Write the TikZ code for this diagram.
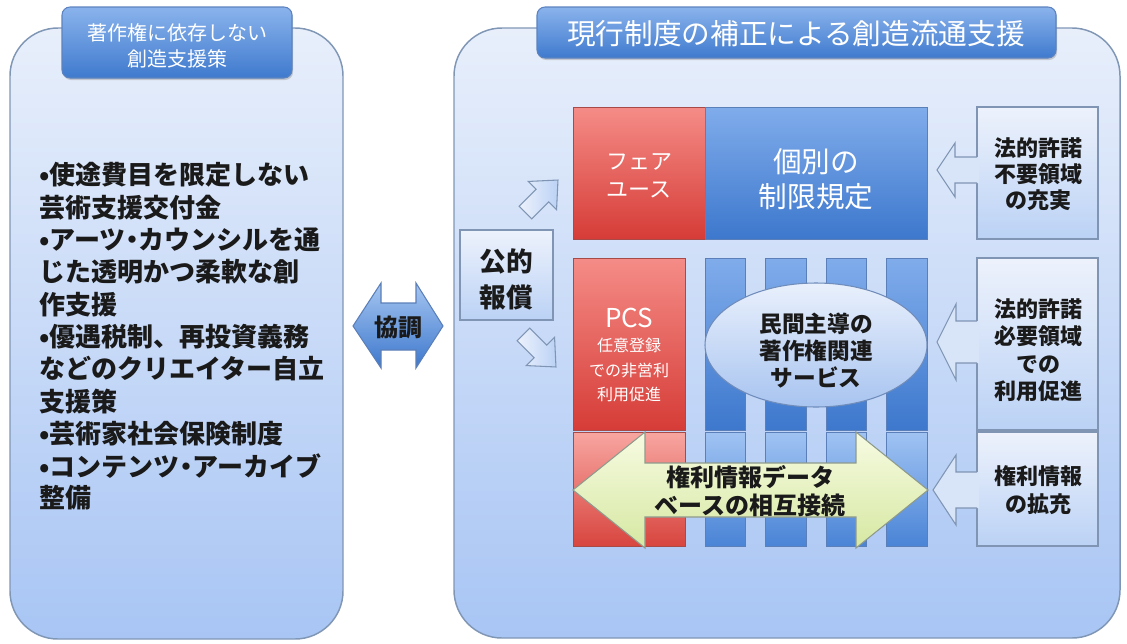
\documentclass[tikz,border=0pt]{standalone}
\usepackage{fontspec}
\setmainfont{Noto Sans CJK JP}
\usetikzlibrary{shapes.geometric,shadows,fit}
\newcommand\jfs[2]{\fontsize{#1}{#2}\selectfont}
\newcommand\ndot{\makebox[0.5em][c]{・}}
\definecolor{panelTop}{HTML}{E8EFFB}
\definecolor{panelBot}{HTML}{A8C5F4}
\definecolor{panelLine}{HTML}{8096B5}
\definecolor{titleTop}{HTML}{8AB3EC}
\definecolor{titleBot}{HTML}{3F7ACE}
\definecolor{titleLine}{HTML}{5C83BF}
\definecolor{redTop}{HTML}{F58C87}
\definecolor{redBot}{HTML}{D63C37}
\definecolor{redLine}{HTML}{A84B48}
\definecolor{redTwoTop}{HTML}{F8A6A1}
\definecolor{redTwoBot}{HTML}{D8453F}
\definecolor{blueTop}{HTML}{80ACEB}
\definecolor{blueBot}{HTML}{3D78CD}
\definecolor{blueLine}{HTML}{5B7FB8}
\definecolor{blueTwoTop}{HTML}{A0C3F3}
\definecolor{blueTwoBot}{HTML}{4A84D6}
\definecolor{lightTop}{HTML}{EDF2FC}
\definecolor{lightBot}{HTML}{BBD2F5}
\definecolor{lightMid}{HTML}{D8E5F8}
\definecolor{lightLine}{HTML}{7F95B3}
\definecolor{ellTop}{HTML}{E9F0FC}
\definecolor{ellBot}{HTML}{A8C4F0}
\definecolor{ellLine}{HTML}{6F8CBB}
\definecolor{yelTop}{HTML}{F7FBE2}
\definecolor{yelBot}{HTML}{D6E8A2}
\definecolor{yelLine}{HTML}{8E9A8C}
\definecolor{kyoTop}{HTML}{A6C6F1}
\definecolor{kyoBot}{HTML}{3D78CD}
\definecolor{txt}{HTML}{1A1A1A}
\begin{document}
\begin{tikzpicture}[x=0.75pt,y=-0.75pt,
  panel/.style={draw=panelLine, line width=1.1pt, rounded corners=36pt, top color=panelTop, bottom color=panelBot, inner sep=0pt},
  titlebox/.style={draw=titleLine, line width=0.8pt, rounded corners=6pt, top color=titleTop, bottom color=titleBot, text=white, align=center, inner sep=0pt, drop shadow={opacity=0.35,shadow xshift=0.8pt,shadow yshift=-1.5pt}},
  redbox/.style={draw=redLine, line width=0.6pt, top color=redTop, bottom color=redBot, inner sep=0pt},
  redboxtwo/.style={draw=redLine, line width=0.6pt, top color=redTwoTop, bottom color=redTwoBot, inner sep=0pt},
  bluebox/.style={draw=blueLine, line width=0.6pt, top color=blueTop, bottom color=blueBot, inner sep=0pt},
  blueboxtwo/.style={draw=blueLine, line width=0.6pt, top color=blueTwoTop, bottom color=blueTwoBot, inner sep=0pt},
  lightbox/.style={draw=lightLine, line width=0.8pt, top color=lightTop, bottom color=lightBot, inner sep=0pt},
  wtext/.style={text=white, align=center},
  btext/.style={text=txt, align=center, font=\bfseries},
  smallarrow/.style={draw=lightLine, line width=0.8pt, left color=lightTop, right color=lightBot, line join=miter},
  sidefill/.style={fill=lightMid},
  sideline/.style={draw=lightLine, line width=0.8pt},
]
\useasboundingbox (0,0) rectangle (1127,643);

% ---------- left panel ----------
\node[panel, fit={(10,28) (343,639)}] (lpanel) {};
\node[titlebox, fit={(62,7) (292,78)}] (ltitle) {};
\node[wtext, font=\jfs{15}{20}] (ltitletext) at (177,46) {著作権に依存しない\\創造支援策};
\foreach \t [count=\i] in {•使途費目を限定しない, 芸術支援交付金, •アーツ\ndot カウンシルを通, じた透明かつ柔軟な創, 作支援, •優遇税制、再投資義務, などのクリエイター自立, 支援策, •芸術家社会保険制度, •コンテンツ\ndot アーカイブ, 整備}
  \node[anchor=west, text=txt, font=\jfs{19.5}{24}\bfseries, inner sep=0pt] (lb\i) at (39,{175+(\i-1)*32.3}) {\t};

% ---------- center arrow ----------
\path[draw=blueLine, line width=0.8pt, top color=kyoTop, bottom color=kyoBot]
  (353,326) -- (381,283) -- (381,303) -- (416,303) -- (416,283) -- (443,326)
  -- (416,368) -- (416,350) -- (381,350) -- (381,368) -- cycle;
\node[btext, font=\jfs{18}{20}\bfseries] (kyo) at (398,327) {協調};

% ---------- right panel ----------
\node[panel, fit={(454,28) (1120,638)}] (rpanel) {};
\node[titlebox, fit={(537,7) (1056,58)}] (rtitle) {};
\node[wtext, font=\jfs{21.5}{24}] (rtitletext) at (796,34) {現行制度の補正による創造流通支援};

% top row
\node[redbox, fit={(573,107) (705,239)}] (fair) {};
\node[wtext, font=\jfs{16.5}{21}] (fairtext) at (639,176) {フェア\\ユース};
\node[bluebox, fit={(705,107) (927,239)}] (kobetsu) {};
\node[wtext, font=\jfs{21.5}{26}] (kobetsutext) at (816,179) {個別の\\制限規定};

% PCS column
\node[redbox, fit={(573,258) (685,430)}] (pcsU) {};
\node[redboxtwo, fit={(573,432) (685,546)}] (pcsL) {};
\node[wtext, font=\jfs{19.5}{22}] (pcs) at (629,318) {PCS};
\node[wtext, font=\jfs{12}{18.4}] (pcssub) at (629,370) {任意登録\\での非営利\\利用促進};

% blue columns
\foreach \a/\b [count=\i] in {705/745, 765/806, 826/866, 886/927} {
  \node[bluebox, fit={(\a,258) (\b,430)}] (cu\i) {};
  \node[blueboxtwo, fit={(\a,432) (\b,546)}] (cl\i) {};
}

% ellipse
\node[ellipse, draw=ellLine, line width=0.8pt, top color=ellTop, bottom color=ellBot, minimum width=166.5pt, minimum height=93pt, inner sep=0pt] (minkan) at (816,345) {};
\node[btext, font=\jfs{17}{20.3}\bfseries] (minkantext) at (816,351) {民間主導の\\著作権関連\\サービス};

% bottom double arrow
\path[draw=yelLine, line width=0.8pt, top color=yelTop, bottom color=yelBot]
  (573,490) -- (645,432) -- (645,463) -- (856,463) -- (856,432) -- (928,490)
  -- (856,548) -- (856,517) -- (645,517) -- (645,548) -- cycle;
\node[btext, font=\jfs{18}{21}\bfseries] (dbtext) at (750,491) {権利情報データ\\ベースの相互接続};

% right boxes
\node[lightbox, fit={(977,107) (1098,239)}] (r1) {};
\node[btext, font=\jfs{16.5}{19.5}\bfseries] (r1text) at (1038,174) {法的許諾\\不要領域\\の充実};
\node[lightbox, fit={(977,258) (1098,430)}] (r2) {};
\node[btext, font=\jfs{16.5}{20.5}\bfseries] (r2text) at (1038,350) {法的許諾\\必要領域\\での\\利用促進};
\node[lightbox, fit={(977,432) (1098,546)}] (r3) {};
\node[btext, font=\jfs{16.5}{20.5}\bfseries] (r3text) at (1038,490) {権利情報\\の拡充};

% left-pointing arrows
\fill[sidefill] (979,157) -- (955,157) -- (955,143) -- (937,170) -- (955,197) -- (955,183) -- (979,183) -- cycle;
\draw[sideline] (977,157) -- (955,157) -- (955,143) -- (937,170) -- (955,197) -- (955,183) -- (977,183);
\fill[sidefill] (979,321) -- (956,321) -- (956,304) -- (937,342) -- (956,380) -- (956,363) -- (979,363) -- cycle;
\draw[sideline] (977,321) -- (956,321) -- (956,304) -- (937,342) -- (956,380) -- (956,363) -- (977,363);
\fill[sidefill] (979,472) -- (956,472) -- (956,455) -- (933,490) -- (956,525) -- (956,508) -- (979,508) -- cycle;
\draw[sideline] (977,472) -- (956,472) -- (956,455) -- (933,490) -- (956,525) -- (956,508) -- (977,508);

% public compensation
\node[lightbox, fit={(460,230) (553,320)}] (koteki) {};
\node[btext, font=\jfs{20}{27}\bfseries] (kotekitext) at (506,279) {公的\\報償};

\begin{scope}[shift={(541,197)}, rotate=45]
  \path[smallarrow] (-22,-9) -- (2,-9) -- (2,-20) -- (24,0) -- (2,20) -- (2,9) -- (-22,9) -- cycle;
\end{scope}
\begin{scope}[shift={(539,350)}, rotate=-45]
  \path[smallarrow] (-22,-9) -- (2,-9) -- (2,-20) -- (24,0) -- (2,20) -- (2,9) -- (-22,9) -- cycle;
\end{scope}
\end{tikzpicture}
\end{document}
